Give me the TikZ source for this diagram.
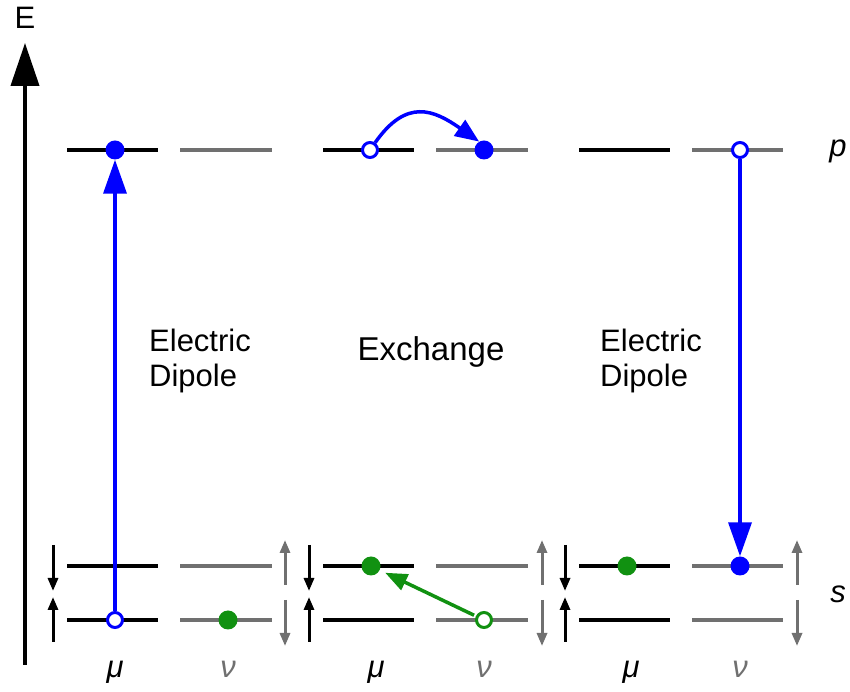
\documentclass[tikz,border=0pt]{standalone}
\usepackage{fontspec}
\setmainfont{Liberation Sans}
\usetikzlibrary{arrows.meta}
\definecolor{lvlgray}{RGB}{112,112,112}
\definecolor{dotgreen}{RGB}{17,145,17}
\definecolor{dotblue}{RGB}{0,0,255}

\begin{document}
\begin{tikzpicture}[x=1pt,y=1pt,
    every node/.style={font=\fontsize{31}{35}\selectfont},
    dot/.style={circle,fill=#1,inner sep=0pt,minimum size=19pt},
    hole/.style={circle,draw=#1,fill=white,line width=3pt,inner sep=0pt,minimum size=15pt},
    lvl/.style={line width=3.2pt},
    spin/.style={line width=3pt,-{Triangle[length=13pt,width=10pt]}},
    jump/.style={line width=3.5pt,dotblue,-{Triangle[length=34pt,width=23pt]}}]
    \useasboundingbox (0,0) rectangle (850,692);

    % energy axis
    \draw[line width=4pt,-{Triangle[length=43pt,width=28pt]}] (25,27) -- (25,649);
    \node (E) at (25,674) {E};

    % levels: p on top, s split in two at the bottom
    \foreach \xa/\xb/\col in {67/158/black,180/272/lvlgray,323/414/black,436/528/lvlgray,579/670/black,692/783/lvlgray}{
        \draw[lvl,\col] (\xa,542) -- (\xb,542);
        \draw[lvl,\col] (\xa,126) -- (\xb,126);
        \draw[lvl,\col] (\xa,72) -- (\xb,72);
    }
    \node[anchor=base] (p) at (838,535) {\textit{p}};
    \node[anchor=base] (s) at (838,89) {\textit{s}};

    % spin splitting arrows
    \foreach \x in {53,309,565}{
        \draw[spin,black] (\x,147) -- (\x,101);
        \draw[spin,black] (\x,50) -- (\x,95);
    }
    \foreach \x in {285,542,797}{
        \draw[spin,lvlgray] (\x,107) -- (\x,152);
        \draw[spin,lvlgray] (\x,92) -- (\x,46);
    }

    % mu and nu labels
    \foreach \x/\n in {115/1,376/2,631/3}{
        \node[anchor=base] (mu\n) at (\x,14) {\textit{μ}};
    }
    \foreach \x/\n in {228/1,484/2,740/3}{
        \node[anchor=base,lvlgray] (nu\n) at (\x,14) {\textit{ν}};
    }

    % first column: electric dipole up
    \node[dot=dotblue] (up1) at (115,542) {};
    \node[hole=dotblue] (lo1) at (115,72) {};
    \node[dot=dotgreen] (gn1) at (228,72) {};
    \draw[jump] (lo1) -- (up1);
    \node[anchor=base west,align=left,inner sep=0pt] (ed1) at (149,305) {Electric\\Dipole};

    % second column: exchange
    \node[hole=dotblue] (up2a) at (370,542) {};
    \node[dot=dotblue] (up2b) at (484,542) {};
    \draw[line width=3.5pt,dotblue,-{Triangle[length=24pt,width=19pt]}] (up2a.55) to[out=55,in=145,looseness=1.35] (up2b.120);
    \node[dot=dotgreen] (gn2a) at (371,126) {};
    \node[hole=dotgreen] (gn2b) at (484,72) {};
    \draw[line width=3.5pt,dotgreen,-{Triangle[length=22pt,width=17pt]},shorten <=2pt,shorten >=6pt] (gn2b) -- (gn2a);
    \node[anchor=base,font=\fontsize{33}{36}\selectfont] (ex) at (431,331) {Exchange};

    % third column: electric dipole down
    \node[hole=dotblue] (up3) at (740,542) {};
    \node[dot=dotblue] (lo3) at (740,126) {};
    \node[dot=dotgreen] (gn3) at (627,126) {};
    \draw[jump] (up3) -- (lo3);
    \node[anchor=base west,align=left,inner sep=0pt] (ed2) at (600,305) {Electric\\Dipole};
\end{tikzpicture}
\end{document}
